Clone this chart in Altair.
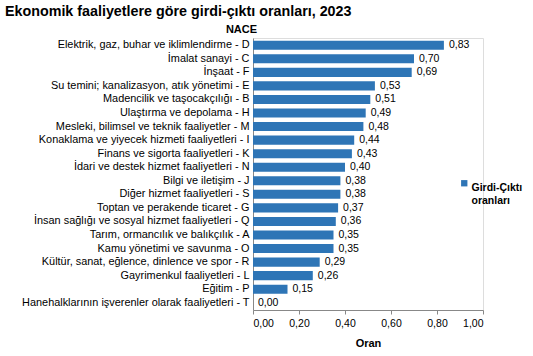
import altair as alt
import pandas as pd

categories = [
    "Elektrik, gaz, buhar ve iklimlendirme - D",
    "İmalat sanayi - C",
    "İnşaat - F",
    "Su temini; kanalizasyon, atık yönetimi - E",
    "Madencilik ve taşocakçılığı - B",
    "Ulaştırma ve depolama - H",
    "Mesleki, bilimsel ve teknik faaliyetler - M",
    "Konaklama ve yiyecek hizmeti faaliyetleri - I",
    "Finans ve sigorta faaliyetleri - K",
    "İdari ve destek hizmet faaliyetleri - N",
    "Bilgi ve iletişim - J",
    "Diğer hizmet faaliyetleri - S",
    "Toptan ve perakende ticaret - G",
    "İnsan sağlığı ve sosyal hizmet faaliyetleri - Q",
    "Tarım, ormancılık ve balıkçılık - A",
    "Kamu yönetimi ve savunma - O",
    "Kültür, sanat, eğlence, dinlence ve spor - R",
    "Gayrimenkul faaliyetleri - L",
    "Eğitim - P",
    "Hanehalklarının işverenler olarak  faaliyetleri - T",
]
values = [0.83, 0.70, 0.69, 0.53, 0.51, 0.49, 0.48, 0.44, 0.43, 0.40,
          0.38, 0.38, 0.37, 0.36, 0.35, 0.35, 0.29, 0.26, 0.15, 0.00]
series_name = "Girdi-Çıktı oranları"

df = pd.DataFrame({"cat": categories, "val": values, "series": series_name})

FONT = "Liberation Sans"
BAR = "#2E75B6"

base = alt.Chart(df).encode(
    y=alt.Y("cat:N", sort=categories,
            scale=alt.Scale(paddingInner=0.33, paddingOuter=0.2),
            axis=alt.Axis(title="NACE", titleAngle=0, titleX=-12, titleY=-4,
                          titleAlign="center", titleFontWeight="bold",
                          titleFontSize=11, titleFont=FONT, titleColor="#000",
                          labelFont=FONT, labelFontSize=10.9, labelColor="#000",
                          labelPadding=4, ticks=False, domainColor="#888",
                          labelLimit=300)),
)

bars = base.mark_bar(color=BAR).encode(
    x=alt.X("val:Q", scale=alt.Scale(domain=[0, 1]),
            axis=alt.Axis(values=[0, 0.2, 0.4, 0.6, 0.8, 1.0],
                          labelExpr="replace(format(datum.value, '.2f'), '.', ',')",
                          title="Oran", titleFont=FONT, titleFontSize=11,
                          titleFontWeight="bold", titleColor="#000",
                          titlePadding=9,
                          labelFont=FONT, labelFontSize=10.5, labelColor="#000",
                          grid=False, tickColor="#888", domainColor="#888",
                          tickSize=4, labelPadding=4)),
    color=alt.Color("series:N", scale=alt.Scale(range=[BAR]),
                    legend=alt.Legend(title=None, orient="none", legendX=206,
                                      legendY=140, symbolType="square",
                                      symbolSize=40, labelFont=FONT,
                                      labelFontSize=10.5, labelFontWeight="bold",
                                      labelColor="#000", labelLimit=200,
                                      labelExpr="['Girdi-Çıktı', 'oranları']",
                                      labelBaseline="top", labelOffset=2)),
)

labels = base.mark_text(align="left", dx=5, font=FONT, fontSize=10.5,
                        color="#000").encode(
    x="val:Q",
    text=alt.Text("label:N"),
).transform_calculate(label="replace(format(datum.val, '.2f'), '.', ',')")

chart = (bars + labels).properties(
    width=230, height=272,
    title=alt.TitleParams("Ekonomik faaliyetlere göre girdi-çıktı oranları, 2023",
                          font=FONT, fontSize=14.3, fontWeight="bold",
                          color="#000", anchor="start", frame="bounds",
                          orient="none", dx=-248, dy=-33),
    autosize=alt.AutoSizeParams(type="none"),
    padding={"left": 253, "top": 38, "right": 50, "bottom": 46},
).configure_view(stroke=None).configure(background="white")

chart.save("out.html", embed_options={"renderer": "svg", "actions": False})
